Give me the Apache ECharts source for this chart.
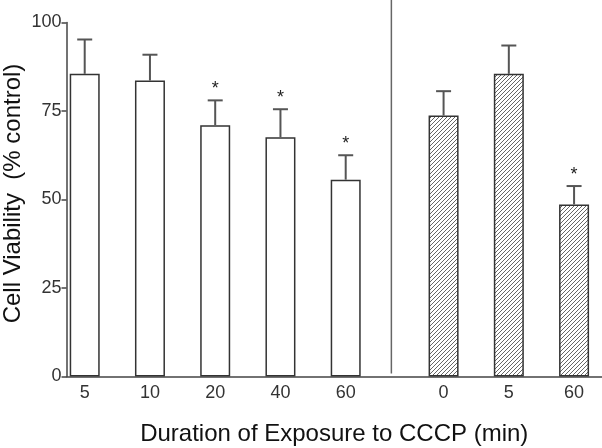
<!DOCTYPE html>
<html><head><meta charset="utf-8">
<script src="https://cdn.jsdelivr.net/npm/echarts@6/dist/echarts.min.js"></script>
<style>html,body{margin:0;padding:0;background:#fff}#c{width:602px;height:448px}</style>
</head><body><div id="c"></div>
<script>
// ---- data ----
const categories = ['5', '10', '20', '40', '60', '0', '5', '60'];
const groups = [0, 0, 0, 0, 0, 1, 1, 1];          // 0 = open bars, 1 = hatched bars
const means = [85.5, 83.6, 71.0, 67.6, 55.6, 73.7, 85.5, 48.6];
const errors = [9.7, 7.3, 7.0, 7.9, 6.9, 6.9, 8.0, 5.2];
const significant = [false, false, true, true, true, false, false, true];
const yTicks = [0, 25, 50, 75, 100];
const yTitle = 'Cell Viability  (% control)';
const xTitle = 'Duration of Exposure to CCCP (min)';

// ---- layout helpers ----
const groupGap = 0.5;
const xs = categories.map((c, i) => i + groups[i] * groupGap);
const dividerX = 4.7;
const FONT = '"Liberation Sans", Arial, sans-serif';

function hatch() {
  const s = 4;
  const c = document.createElement('canvas');
  c.width = s; c.height = s;
  const g = c.getContext('2d');
  g.fillStyle = '#fff'; g.fillRect(0, 0, s, s);
  g.strokeStyle = '#555'; g.lineWidth = 0.9;
  g.beginPath();
  g.moveTo(0, s); g.lineTo(s, 0);
  g.moveTo(-1, 1); g.lineTo(1, -1);
  g.moveTo(s - 1, s + 1); g.lineTo(s + 1, s - 1);
  g.stroke();
  return c;
}
const hatchImg = hatch();

const chart = echarts.init(document.getElementById('c'), null, {renderer: 'canvas'});
chart.setOption({
  animation: false,
  backgroundColor: '#fff',
  grid: {left: 66.5, right: 0, top: 22.5, bottom: 71.5, containLabel: false, outerBoundsMode: 'none'},
  xAxis: {
    type: 'value', min: -0.279, max: 7.928,
    splitLine: {show: false},
    axisLine: {show: true, onZero: false, lineStyle: {color: '#444', width: 1.5}},
    axisTick: {show: false},
    axisLabel: {
      customValues: xs,
      formatter: v => { const k = xs.findIndex(x => Math.abs(x - v) < 1e-6); return k >= 0 ? categories[k] : ''; },
      color: '#333', fontSize: 18, fontFamily: FONT, margin: 8
    },
    name: xTitle, nameLocation: 'middle', nameGap: 46, nameMoveOverlap: false,
    nameTextStyle: {color: '#111', fontSize: 24, fontFamily: FONT}
  },
  yAxis: {
    type: 'value', min: yTicks[0], max: yTicks[yTicks.length - 1], interval: 25,
    splitLine: {show: false},
    axisLine: {show: true, onZero: false, lineStyle: {color: '#444', width: 1.5}},
    axisTick: {show: true, length: 5, lineStyle: {color: '#444', width: 1.5}},
    axisLabel: {color: '#333', fontSize: 18, fontFamily: FONT, margin: 5},
    name: yTitle, nameLocation: 'middle', nameGap: 41, nameMoveOverlap: false,
    nameTextStyle: {color: '#111', fontSize: 24, fontFamily: FONT, padding: [0, 0, 0, 12]}
  },
  series: [
    {
      type: 'bar',
      barWidth: 30,
      data: xs.map((x, i) => ({
        value: [x, means[i]],
        itemStyle: {color: groups[i] ? {image: hatchImg, repeat: 'repeat'} : '#fff'}
      })),
      itemStyle: {borderColor: '#333', borderWidth: 1.5},
      z: 2
    },
    {
      type: 'custom',
      z: 3,
      data: xs.map((x, i) => [x, means[i], errors[i], significant[i] ? 1 : 0]),
      renderItem: (p, api) => {
        const x = api.value(0), m = api.value(1), e = api.value(2), sig = api.value(3);
        const b = api.coord([x, m]), t = api.coord([x, m + e]);
        const hw = 7.5;
        const children = [
          {type: 'line', shape: {x1: b[0], y1: b[1], x2: t[0], y2: t[1]}, style: {stroke: '#555', lineWidth: 2}},
          {type: 'line', shape: {x1: t[0] - hw, y1: t[1], x2: t[0] + hw, y2: t[1]}, style: {stroke: '#555', lineWidth: 2}}
        ];
        if (sig) {
          children.push({type: 'text', style: {text: '*', x: t[0], y: t[1] - 11, align: 'center', verticalAlign: 'middle', font: '18px ' + FONT, fill: '#222'}});
        }
        return {type: 'group', children};
      }
    },
    {
      type: 'custom',
      z: 3,
      clip: false,
      data: [[dividerX]],
      renderItem: (p, api) => {
        const b = api.coord([api.value(0), 0]);
        return {type: 'line', shape: {x1: b[0], y1: b[1] - 3, x2: b[0], y2: 0}, style: {stroke: '#666', lineWidth: 1.5}};
      }
    }
  ]
});
</script></body></html>
